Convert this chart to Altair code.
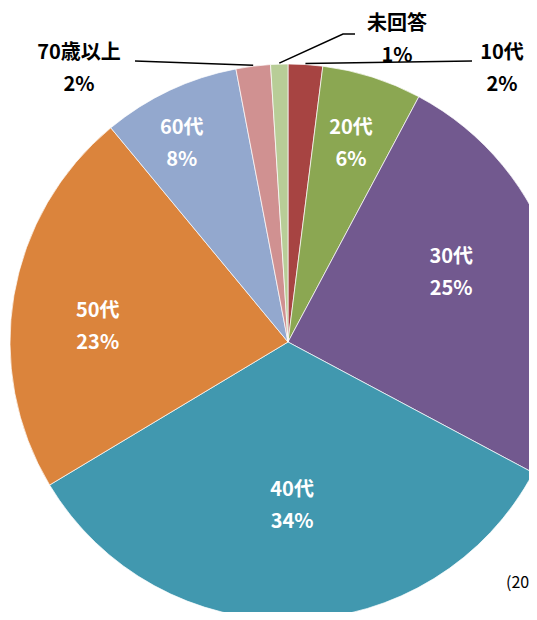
import math
import altair as alt
import pandas as pd

# ---- data ----
categories = ["10代", "20代", "30代", "40代", "50代", "60代", "70歳以上", "未回答"]
values = [2.0, 5.8, 25.0, 33.6, 22.6, 8.0, 2.0, 1.0]
pct_labels = ["2%", "6%", "25%", "34%", "23%", "8%", "2%", "1%"]
inside = [False, True, True, True, True, True, False, False]
colors = ["#A74442", "#8BA752", "#72598F", "#4198AF", "#DB843C", "#93A8CE", "#D09191", "#B8CD97"]
note_text = "(2020年)"

FONT = "Noto Sans CJK JP"
W, H = 521, 604
CX, CY, R = 280, 334, 278
LH = 32

# layout of inner labels: radius and fine offsets (px) per slice
label_layout = {
    "20代": (208, 0, 0),
    "30代": (180, -9, -17),
    "40代": (164, 0, 0),
    "50代": (191, -2, 17),
    "60代": (226, -10, 6),
}

df = pd.DataFrame({
    "cat": categories,
    "value": values,
    "idx": list(range(len(categories))),
    "lab": [f"{c}\n{p}" if i else "" for c, p, i in zip(categories, pct_labels, inside)],
})

# mid-angles of slices (clockwise from top), from the data
total = sum(values)
mid = {}
acc = 0.0
for c, v in zip(categories, values):
    mid[c] = (acc + v / 2) / total * 2 * math.pi
    acc += v


def edge(c):
    a = mid[c]
    return CX + R * math.sin(a), CY - R * math.cos(a)


# outside labels: anchor positions (layout), y = first line centre
out_labels = pd.DataFrame({
    "t": ["10代\n2%", "未回答\n1%", "70歳以上\n2%"],
    "x": [494, 389, 71],
    "y": [45, 16, 45],
})

# leader lines: slice edge -> label
segs = []
for k, (c, pts) in enumerate([
    ("10代", [(464, 53)]),
    ("未回答", [(335, 26), (347, 26)]),
    ("70歳以上", [(127, 53)]),
]):
    ex, ey = edge(c)
    allpts = [(ex, ey - 1)] + pts
    for o, (x, y) in enumerate(allpts):
        segs.append({"g": k, "o": o, "x": x, "y": y})
lines_df = pd.DataFrame(segs)

base = alt.Chart(df)

pie = base.mark_arc(outerRadius=R, stroke="white", strokeWidth=0.7).encode(
    x=alt.value(CX),
    y=alt.value(CY),
    theta=alt.Theta("value:Q", stack=True),
    color=alt.Color("cat:N", scale=alt.Scale(domain=categories, range=colors), legend=None),
    order=alt.Order("idx:Q"),
)

inner_layers = []
for c, (rad, ox, oy) in label_layout.items():
    inner_layers.append(
        base.transform_calculate(
            t=f"datum.cat === '{c}' ? datum.lab : ''"
        ).mark_text(
            radius=rad, dx=ox, dy=-LH / 2 + oy, fontSize=20, fontWeight="bold",
            color="white", font=FONT, lineBreak="\n", lineHeight=LH,
            align="center", baseline="middle",
        ).encode(
            x=alt.value(CX),
            y=alt.value(CY),
            theta=alt.Theta("value:Q", stack=True),
            order=alt.Order("idx:Q"),
            text="t:N",
        )
    )

leaders = alt.Chart(lines_df).mark_line(color="black", strokeWidth=1.6).encode(
    x=alt.X("x:Q", scale=None),
    y=alt.Y("y:Q", scale=None),
    detail="g:N",
    order="o:Q",
)

outer_text = alt.Chart(out_labels).mark_text(
    fontSize=20, fontWeight="bold", color="black", font=FONT,
    lineBreak="\n", lineHeight=LH, align="center", baseline="middle",
).encode(
    x=alt.X("x:Q", scale=None),
    y=alt.Y("y:Q", scale=None),
    text="t:N",
)

note = alt.Chart(pd.DataFrame({"t": [note_text]})).mark_text(
    fontSize=16, color="black", font=FONT, align="left", baseline="middle",
).encode(
    x=alt.value(498),
    y=alt.value(575),
    text="t:N",
)

chart = alt.layer(pie, *inner_layers, leaders, outer_text, note).properties(
    width=W, height=H, autosize=alt.AutoSizeParams(type="none"), padding=0,
).configure_view(stroke=None)

chart.save("out.html", embed_options={"renderer": "svg", "actions": False})
